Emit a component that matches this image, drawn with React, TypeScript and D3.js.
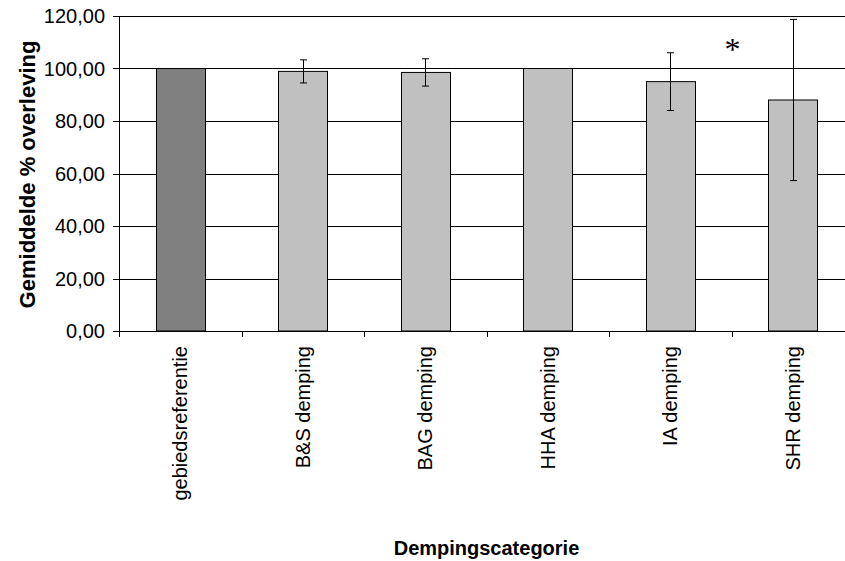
import React from "react";
import * as d3 from "d3";

const categories = ["gebiedsreferentie", "B&S demping", "BAG demping", "HHA demping", "IA demping", "SHR demping"];
const means = [100, 98.9, 98.5, 100, 95.0, 88.0];
const errors = [0, 4.4, 5.2, 0, 11.0, 30.7];
const barColors = ["#808080", "#c0c0c0", "#c0c0c0", "#c0c0c0", "#c0c0c0", "#c0c0c0"];
const yTicks = [0, 20, 40, 60, 80, 100, 120];
const annotationText = "*";

const W = 845;
const H = 561;
const margin = { left: 119, top: 16, bottom: 331, right: 854 };
const FONT = "'Liberation Sans', Arial, sans-serif";

export default function App() {
  const x = d3.scaleBand<string>().domain(categories).range([margin.left, margin.right]);
  const y = d3.scaleLinear().domain([0, 120]).range([margin.bottom, margin.top]);
  const barW = 49;
  const fmt = (v: number) => v.toFixed(2).replace(".", ",");

  return (
    <svg width={W} height={H} style={{ position: "absolute", left: 0, top: 0 }}>
      <rect x={0} y={0} width={W} height={H} fill="#fff" />
      {/* gridlines */}
      {yTicks.map((t) => (
        <line key={"g" + t} x1={margin.left} x2={margin.right} y1={Math.round(y(t)) + 0.5} y2={Math.round(y(t)) + 0.5} stroke="#000" strokeWidth={1} />
      ))}
      {/* bars */}
      {categories.map((c, i) => {
        const cx = (x(c) as number) + x.bandwidth() / 2;
        return (
          <rect key={"b" + c} x={Math.round(cx - barW / 2) + 0.5} y={y(means[i])} width={barW} height={y(0) - y(means[i])} fill={barColors[i]} stroke="#000" strokeWidth={1} />
        );
      })}
      {/* error bars */}
      {categories.map((c, i) => {
        const cx = Math.round((x(c) as number) + x.bandwidth() / 2) + 0.5;
        const hi = y(means[i] + errors[i]);
        const lo = y(means[i] - errors[i]);
        return (
          <g key={"e" + c} stroke="#000" strokeWidth={1}>
            <line x1={cx} x2={cx} y1={hi} y2={lo} />
            <line x1={cx - 3.5} x2={cx + 3.5} y1={hi} y2={hi} />
            <line x1={cx - 3.5} x2={cx + 3.5} y1={lo} y2={lo} />
          </g>
        );
      })}
      {/* y axis */}
      <line x1={margin.left + 0.5} x2={margin.left + 0.5} y1={margin.top} y2={margin.bottom + 6} stroke="#000" />
      {yTicks.map((t) => (
        <g key={"t" + t}>
          <line x1={margin.left - 6} x2={margin.left} y1={Math.round(y(t)) + 0.5} y2={Math.round(y(t)) + 0.5} stroke="#000" />
          <text x={105} y={y(t)} dy="0.35em" textAnchor="end" fontFamily={FONT} fontSize={20} fill="#000">
            {fmt(t)}
          </text>
        </g>
      ))}
      {/* x axis */}
      <line x1={margin.left} x2={margin.right} y1={margin.bottom + 0.5} y2={margin.bottom + 0.5} stroke="#000" />
      {categories.map((c) => (
        <line key={"xt" + c} x1={Math.round(x(c) as number) + 0.5} x2={Math.round(x(c) as number) + 0.5} y1={margin.bottom} y2={margin.bottom + 6} stroke="#000" />
      ))}
      {categories.map((c) => {
        const cx = (x(c) as number) + x.bandwidth() / 2;
        return (
          <text key={"xl" + c} transform={`translate(${cx + 7},346) rotate(-90)`} textAnchor="end" fontFamily={FONT} fontSize={20} fill="#000">
            {c}
          </text>
        );
      })}
      {/* annotation */}
      <text x={(x(categories[5]) as number) + 1} y={y(110)} dy="0.55em" textAnchor="middle" fontFamily="'Liberation Serif', 'Times New Roman', serif" fontSize={32} fill="#000">
        {annotationText}
      </text>
      {/* titles */}
      <text transform={`translate(35,${(margin.top + margin.bottom) / 2 + 1}) rotate(-90)`} textAnchor="middle" fontFamily={FONT} fontWeight="bold" fontSize={22} fill="#000">
        Gemiddelde % overleving
      </text>
      <text x={(margin.left + margin.right) / 2} y={555} textAnchor="middle" fontFamily={FONT} fontWeight="bold" fontSize={20} fill="#000">
        Dempingscategorie
      </text>
    </svg>
  );
}
